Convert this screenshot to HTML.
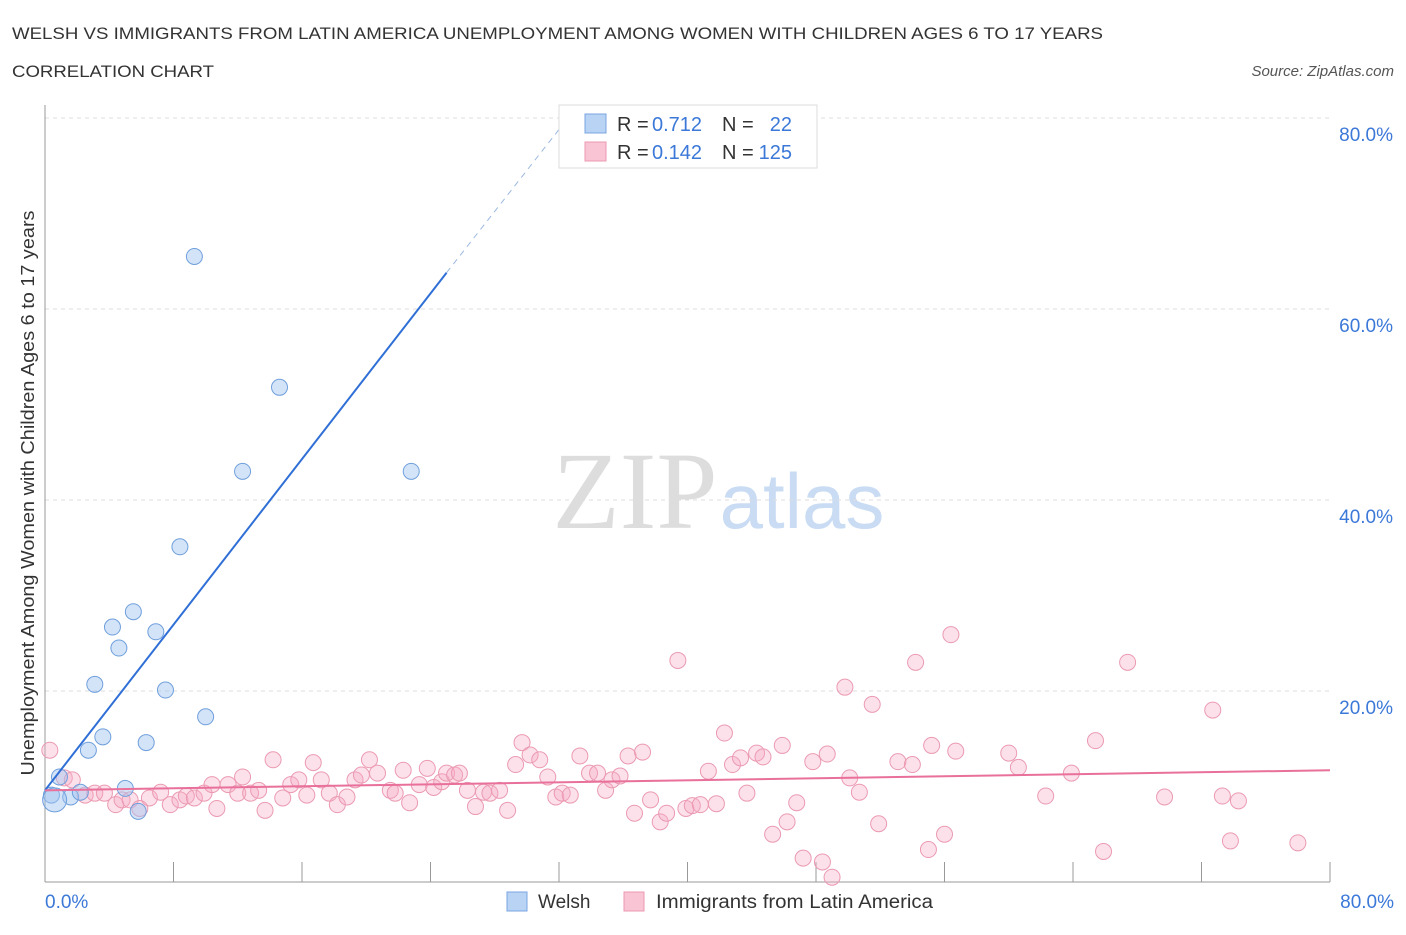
<!DOCTYPE html>
<html><head><meta charset="utf-8"><style>
body{margin:0;background:#fff;font-family:"Liberation Sans",sans-serif;}
</style></head><body>
<svg width="1406" height="930" xmlns="http://www.w3.org/2000/svg" id="chart">
<text x="12" y="39" font-size="17" fill="#333" textLength="1091" lengthAdjust="spacingAndGlyphs">WELSH VS IMMIGRANTS FROM LATIN AMERICA UNEMPLOYMENT AMONG WOMEN WITH CHILDREN AGES 6 TO 17 YEARS</text>
<text x="12" y="77" font-size="17" fill="#333" textLength="202" lengthAdjust="spacingAndGlyphs">CORRELATION CHART</text>
<text x="1394" y="76" font-size="15" fill="#555" font-style="italic" text-anchor="end">Source: ZipAtlas.com</text>
<text x="635" y="528" font-size="110" fill="#ddd" font-family="Liberation Serif,serif" text-anchor="middle">ZIP</text>
<text x="802" y="528" font-size="78" fill="#c9dcf3" text-anchor="middle">atlas</text>
<g id="grid"></g><g id="axes"></g><g id="marks"></g>
<text transform="translate(34,493) rotate(-90)" font-size="18" fill="#333" text-anchor="middle" textLength="565" lengthAdjust="spacingAndGlyphs">Unemployment Among Women with Children Ages 6 to 17 years</text>
<text x="45" y="908" font-size="19" fill="#3b78d8">0.0%</text>
<text x="1394" y="908" font-size="19" fill="#3b78d8" text-anchor="end">80.0%</text>
<g>
<rect x="559" y="105" width="258" height="63" fill="#fff" stroke="#ddd"/>
<rect x="585" y="114" width="21" height="19" fill="#b9d3f5" stroke="#7aa6e0"/>
<rect x="585" y="142" width="21" height="19" fill="#f9c4d4" stroke="#eb9ab2"/>
<text x="617" y="131" font-size="20" fill="#333">R =</text>
<text x="652" y="131" font-size="20" fill="#3b78d8">0.712</text>
<text x="722" y="131" font-size="20" fill="#333">N =</text>
<text x="792" y="131" font-size="20" fill="#3b78d8" text-anchor="end">22</text>
<text x="617" y="159" font-size="20" fill="#333">R =</text>
<text x="652" y="159" font-size="20" fill="#3b78d8">0.142</text>
<text x="722" y="159" font-size="20" fill="#333">N =</text>
<text x="792" y="159" font-size="20" fill="#3b78d8" text-anchor="end">125</text>
</g>
<g>
<rect x="507" y="892" width="20" height="19" fill="#b9d3f5" stroke="#7aa6e0"/>
<text x="538" y="908" font-size="19" fill="#333">Welsh</text>
<rect x="624" y="892" width="20" height="19" fill="#f9c4d4" stroke="#eb9ab2"/>
<text x="656" y="908" font-size="19" fill="#333" textLength="277" lengthAdjust="spacingAndGlyphs">Immigrants from Latin America</text>
</g>
</svg>
<script>
const yTicks=[20,40,60,80];
const yTickLabels=["20.0%","40.0%","60.0%","80.0%"];
const xTicks=[0,8,16,24,32,40,48,56,64,72,80];
const welshX=[9.3,14.6,12.3,22.8,8.4,5.5,4.2,6.9,4.6,3.1,7.5,10.0,3.6,6.3,2.7,5.0,0.9,0.4,1.6,2.2,5.8,0.6];
const welshY=[65.5,51.8,43.0,43.0,35.1,28.3,26.7,26.2,24.5,20.7,20.1,17.3,15.2,14.6,13.8,9.8,11.0,9.1,8.9,9.4,7.4,8.6];
const latinX=[0.3,1.2,1.7,2.5,3.1,3.7,4.4,4.8,5.3,5.9,6.5,7.2,7.8,8.4,8.8,9.3,9.9,10.4,10.7,11.4,12.0,12.3,12.8,13.3,13.7,14.2,14.8,15.3,15.8,16.3,16.7,17.2,17.7,18.2,18.8,19.3,19.7,20.2,20.7,21.5,21.8,22.3,22.7,23.3,23.8,24.2,24.7,25.0,25.5,25.8,26.3,26.8,27.3,27.7,28.3,28.8,29.3,29.7,30.2,30.8,31.3,31.8,32.2,32.7,33.3,33.9,34.4,34.9,35.3,35.8,36.3,36.7,37.2,37.7,38.3,38.7,39.4,39.9,40.3,40.8,41.3,41.8,42.3,42.8,43.3,43.7,44.3,44.7,45.3,45.9,46.2,46.8,47.2,47.8,48.4,48.7,49.0,49.8,50.1,50.7,51.5,51.9,53.1,54.0,54.2,55.0,55.2,56.0,56.4,56.7,60.0,60.6,62.3,63.9,65.4,65.9,67.4,69.7,72.7,73.3,73.8,74.3,78.0];
const latinY=[13.8,10.9,10.7,9.1,9.3,9.3,8.1,8.6,8.6,7.7,8.8,9.4,8.1,8.6,9.0,8.8,9.3,10.2,7.7,10.2,9.3,11.0,9.3,9.6,7.5,12.8,8.8,10.2,10.7,9.1,12.5,10.7,9.3,8.1,8.9,10.7,11.2,12.8,11.4,9.6,9.3,11.7,8.3,10.2,11.9,9.9,10.5,11.4,11.2,11.4,9.6,7.9,9.4,9.3,9.6,7.5,12.3,14.6,13.3,12.8,11.0,8.9,9.3,9.1,13.2,11.4,11.4,9.6,10.7,11.1,13.2,7.2,13.6,8.6,6.3,7.2,23.2,7.7,8.0,8.1,11.6,8.2,15.6,12.3,13.0,9.3,13.5,13.1,5.0,14.3,6.3,8.3,2.5,12.6,2.1,13.4,0.5,20.4,10.9,9.4,18.6,6.1,12.6,12.3,23.0,3.4,14.3,5.0,25.9,13.7,13.5,12.0,9.0,11.4,14.8,3.2,23.0,8.9,18.0,9.0,4.3,8.5,4.1];
const welshTrend=[0,9.6,25.0,63.8,32.7,80.3];
const latinTrend=[0,9.6,80,11.7];
const NS="http://www.w3.org/2000/svg";
const X=v=>45+v*(1285/80), Y=v=>882-v*(764/80);
function mk(t,a,p){const e=document.createElementNS(NS,t);for(const k in a)e.setAttribute(k,a[k]);p.appendChild(e);return e;}
const grid=document.getElementById('grid'),axes=document.getElementById('axes'),marks=document.getElementById('marks');
yTicks.forEach((v,i)=>{
 const l=mk('line',{x1:45,x2:1330,y1:Y(v),y2:Y(v),stroke:'#ddd','stroke-dasharray':'4,4'},grid);
 
 
 const t=mk('text',{x:1393,y:Y(v)+23,'font-size':19,fill:'#3b78d8','text-anchor':'end'},grid);
 t.textContent=yTickLabels[i];
 
 
});
const ax=mk('line',{x1:45,x2:45,y1:105,y2:882,stroke:'#999'},axes);


const bx=mk('line',{x1:45,x2:1330,y1:882,y2:882,stroke:'#999'},axes);


xTicks.forEach(v=>{
 const t=mk('line',{x1:X(v),x2:X(v),y1:862,y2:882,stroke:'#999'},axes);
 
 
});
latinX.forEach((v,i)=>{
 const c=mk('circle',{cx:X(v),cy:Y(latinY[i]),r:8,fill:'rgba(247,170,195,0.35)',stroke:'#eb9ab2','stroke-width':1},marks);
 
 
});
welshX.forEach((v,i)=>{
 const c=mk('circle',{cx:X(v),cy:Y(welshY[i]),r:i==21?12:8,fill:'rgba(160,195,240,0.45)',stroke:'#6f9fdc','stroke-width':1},marks);
 
 
});
const wl=mk('line',{x1:X(welshTrend[0]),y1:Y(welshTrend[1]),x2:X(welshTrend[2]),y2:Y(welshTrend[3]),stroke:'#2f6fd6','stroke-width':2},marks);


const wd=mk('line',{x1:X(welshTrend[2]),y1:Y(welshTrend[3]),x2:X(welshTrend[4]),y2:Y(welshTrend[5]),stroke:'#9bb8e0','stroke-width':1,'stroke-dasharray':'6,5'},marks);


const ll=mk('line',{x1:X(latinTrend[0]),y1:Y(latinTrend[1]),x2:X(latinTrend[2]),y2:Y(latinTrend[3]),stroke:'#e8709a','stroke-width':2},marks);


</script>
</body></html>
